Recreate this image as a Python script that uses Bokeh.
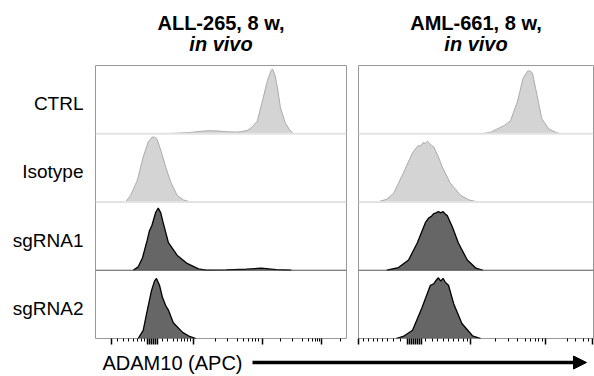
from bokeh.plotting import figure
from bokeh.models import (FixedTicker, Range1d, Span, Label, Arrow,
                          NormalHead, CustomJSTickFormatter)
from bokeh.layouts import column, row
from bokeh.embed import file_html
from bokeh.resources import INLINE

FONT = "Liberation Sans"

# ---------------- data ----------------
row_labels = ["CTRL", "Isotype", "sgRNA1", "sgRNA2"]
panel_titles = [("ALL-265, 8 w,", "in vivo"), ("AML-661, 8 w,", "in vivo")]
axis_label = "ADAM10 (APC)"

# Left panel (ALL-265) histograms: x = fraction of axis, y = fraction of row height
L_CTRL_x = [0.27, 0.33, 0.38, 0.42, 0.45, 0.49, 0.52, 0.56, 0.58, 0.606, 0.625, 0.645,
            0.665, 0.685, 0.70, 0.705, 0.715, 0.725, 0.737, 0.757, 0.775, 0.789]
L_CTRL_y = [0.0, 0.01, 0.02, 0.035, 0.045, 0.04, 0.03, 0.025, 0.03, 0.05, 0.10, 0.19,
            0.48, 0.78, 0.93, 0.95, 0.86, 0.67, 0.38, 0.15, 0.05, 0.0]
L_ISO_x = [0.12, 0.14, 0.167, 0.19, 0.21, 0.225, 0.235, 0.245, 0.26, 0.28, 0.30, 0.325, 0.35, 0.38]
L_ISO_y = [0.0, 0.10, 0.32, 0.66, 0.88, 0.95, 0.95, 0.92, 0.76, 0.51, 0.29, 0.10, 0.03, 0.0]
L_SG1_x = [0.15, 0.17, 0.187, 0.206, 0.215, 0.225, 0.24, 0.25, 0.26, 0.27, 0.29, 0.325, 0.365,
           0.41, 0.44, 0.52, 0.60, 0.66, 0.72, 0.78]
L_SG1_y = [0.0, 0.05, 0.18, 0.44, 0.58, 0.66, 0.85, 0.91, 0.84, 0.69, 0.41, 0.22, 0.10,
           0.02, 0.0, 0.005, 0.015, 0.03, 0.01, 0.0]
L_SG2_x = [0.17, 0.19, 0.206, 0.223, 0.235, 0.243, 0.255, 0.267, 0.28, 0.29, 0.31, 0.347, 0.375, 0.40]
L_SG2_y = [0.0, 0.12, 0.41, 0.70, 0.84, 0.88, 0.78, 0.60, 0.48, 0.42, 0.23, 0.09, 0.03, 0.0]

# Right panel (AML-661) histograms
R_CTRL_x = [0.52, 0.56, 0.59, 0.62, 0.647, 0.677, 0.70, 0.72, 0.73, 0.74, 0.76, 0.78, 0.81, 0.84, 0.86]
R_CTRL_y = [0.0, 0.02, 0.07, 0.12, 0.19, 0.48, 0.81, 0.92, 0.92, 0.89, 0.56, 0.22, 0.07, 0.02, 0.0]
R_ISO_x = [0.08, 0.12, 0.15, 0.19, 0.23, 0.245, 0.255, 0.265, 0.275, 0.285, 0.293, 0.30,
           0.31, 0.32, 0.328, 0.34, 0.357, 0.39, 0.434, 0.47, 0.51]
R_ISO_y = [0.0, 0.04, 0.13, 0.42, 0.72, 0.79, 0.83, 0.82, 0.87, 0.86, 0.89, 0.87,
           0.83, 0.81, 0.75, 0.66, 0.51, 0.28, 0.10, 0.03, 0.0]
R_SG1_x = [0.12, 0.17, 0.213, 0.25, 0.285, 0.30, 0.31, 0.32, 0.33, 0.34, 0.35, 0.36, 0.37,
           0.378, 0.40, 0.425, 0.463, 0.50, 0.53]
R_SG1_y = [0.0, 0.04, 0.15, 0.40, 0.70, 0.77, 0.79, 0.83, 0.84, 0.86, 0.84, 0.86, 0.82,
           0.80, 0.63, 0.40, 0.15, 0.03, 0.0]
R_SG2_x = [0.16, 0.19, 0.23, 0.27, 0.306, 0.32, 0.33, 0.34, 0.35, 0.36, 0.37, 0.383, 0.405,
           0.44, 0.485, 0.52]
R_SG2_y = [0.0, 0.03, 0.12, 0.45, 0.78, 0.80, 0.85, 0.89, 0.84, 0.88, 0.82, 0.78, 0.51,
           0.22, 0.04, 0.0]

# Axis ticks (fraction of axis) - logicle-style scale
L_major = [0.063, 0.392, 0.664, 0.899]
L_zero = [0.207, 0.215, 0.223, 0.231, 0.239, 0.247]
L_minor = [0.088, 0.112, 0.131, 0.151, 0.167, 0.183, 0.195,
           0.267, 0.287, 0.311, 0.327, 0.343, 0.355, 0.367, 0.378,
           0.478, 0.526, 0.566, 0.590, 0.610, 0.625, 0.637, 0.649,
           0.737, 0.785, 0.825, 0.849, 0.865, 0.876, 0.884, 0.892, 0.976]
R_major = [0.001, 0.477, 0.796, 0.997]
R_zero = [0.209, 0.217, 0.226, 0.234, 0.243, 0.251, 0.260, 0.268]
R_minor = [0.023, 0.044, 0.065, 0.082, 0.101, 0.122, 0.150, 0.179,
           0.285, 0.314, 0.335, 0.363, 0.384, 0.406, 0.427, 0.448, 0.463,
           0.583, 0.638, 0.677, 0.711, 0.732, 0.753, 0.766, 0.783,
           0.888, 0.923, 0.959, 0.980]

LIGHT_FILL, LIGHT_LINE = "#d4d4d4", "#ababab"
DARK_FILL, DARK_LINE = "#666666", "#000000"
row_styles = [(LIGHT_FILL, LIGHT_LINE, 1.0), (LIGHT_FILL, LIGHT_LINE, 1.0),
              (DARK_FILL, DARK_LINE, 1.3), (DARK_FILL, DARK_LINE, 1.3)]

# ---------------- layout geometry (pixels) ----------------
W = 594
TOP_H = 58
PANEL_H = 290
BOT_H = 28
L_W, L_BL, L_BR = 352, 95, 6
R_W, R_BL, R_BR = W - 352, 6, 1


def make_panel(curves, majors, minors, width, border_left, border_right, show_labels):
    p = figure(width=width, height=PANEL_H, x_range=Range1d(0, 1), y_range=Range1d(0, 4),
               output_backend="svg", toolbar_location=None, title=None,
               min_border_left=border_left, min_border_right=border_right,
               min_border_top=7, min_border_bottom=10)
    p.grid.visible = False
    p.outline_line_color = "#999999"
    p.outline_line_width = 1
    p.background_fill_color = "white"
    p.border_fill_color = "white"

    for i, (xs, ys) in enumerate(curves):
        base = 3 - i
        fill, line, lw = row_styles[i]
        top = [base + v for v in ys]
        p.varea(x=xs, y1=[base] * len(xs), y2=top, fill_color=fill)
        p.line(x=xs, y=top, line_color=line, line_width=lw)

    for loc, col, lw in [(3, "#e3e3e3", 2), (2, "#e3e3e3", 2), (1, "#555555", 1)]:
        p.add_layout(Span(location=loc, dimension="width", line_color=col, line_width=lw))

    xa = p.xaxis[0]
    xa.ticker = FixedTicker(ticks=majors, minor_ticks=minors)
    xa.formatter = CustomJSTickFormatter(code="return ''")
    xa.major_label_text_font_size = "0px"
    xa.major_label_standoff = 0
    xa.axis_line_color = None
    xa.major_tick_in = 0
    xa.major_tick_out = 6
    xa.minor_tick_in = 0
    xa.minor_tick_out = 3
    xa.major_tick_line_color = "#000000"
    xa.major_tick_line_width = 1.5
    xa.minor_tick_line_color = "#000000"

    ya = p.yaxis[0]
    if show_labels:
        ya.ticker = FixedTicker(ticks=[3 - i + 0.44 for i in range(len(row_labels))], minor_ticks=[])
        ya.formatter = CustomJSTickFormatter(args=dict(labels=row_labels),
                                             code="return labels[3 - Math.floor(tick)];")
        ya.axis_line_color = None
        ya.major_tick_line_color = None
        ya.major_tick_in = 0
        ya.major_tick_out = 0
        ya.major_label_standoff = 12
        ya.major_label_text_font = FONT
        ya.major_label_text_font_size = "19px"
        ya.major_label_text_color = "#000000"
    else:
        ya.visible = False
    return p


pL = make_panel([(L_CTRL_x, L_CTRL_y), (L_ISO_x, L_ISO_y), (L_SG1_x, L_SG1_y), (L_SG2_x, L_SG2_y)],
                L_major + L_zero, L_minor, L_W, L_BL, L_BR, True)
pR = make_panel([(R_CTRL_x, R_CTRL_y), (R_ISO_x, R_ISO_y), (R_SG1_x, R_SG1_y), (R_SG2_x, R_SG2_y)],
                R_major + R_zero, R_minor, R_W, R_BL, R_BR, False)


def strip(height):
    s = figure(width=W, height=height, x_range=Range1d(0, W), y_range=Range1d(0, height),
               output_backend="svg", toolbar_location=None, min_border=0)
    s.axis.visible = False
    s.grid.visible = False
    s.outline_line_color = None
    return s


# title strip: centred over each panel frame
pT = strip(TOP_H)
centers = [L_BL + (L_W - L_BL - L_BR) / 2, L_W + R_BL + (R_W - R_BL - R_BR) / 2]
for cx, (t1, t2) in zip(centers, panel_titles):
    pT.add_layout(Label(x=cx, y=TOP_H - 22, text=t1, text_font=FONT, text_font_size="20px",
                        text_font_style="bold", text_align="center", text_baseline="middle",
                        text_color="#000000"))
    pT.add_layout(Label(x=cx, y=TOP_H - 43, text=t2, text_font=FONT, text_font_size="20px",
                        text_font_style="bold italic", text_align="center", text_baseline="middle",
                        text_color="#000000"))

# bottom strip with the axis label and arrow spanning both panels
pB = strip(BOT_H)
pB.add_layout(Label(x=102, y=BOT_H - 14, text=axis_label, text_font=FONT, text_font_size="20px",
                    text_baseline="middle", text_align="left", text_color="#000000"))
pB.add_layout(Arrow(x_start=252, y_start=BOT_H - 14, x_end=586, y_end=BOT_H - 14, line_width=3.5,
                    line_color="#000000",
                    end=NormalHead(size=13, fill_color="#000000", line_color="#000000")))

layout = column(pT, row(pL, pR, spacing=0), pB, spacing=0)
open("out.html", "w").write(file_html(layout, INLINE))
